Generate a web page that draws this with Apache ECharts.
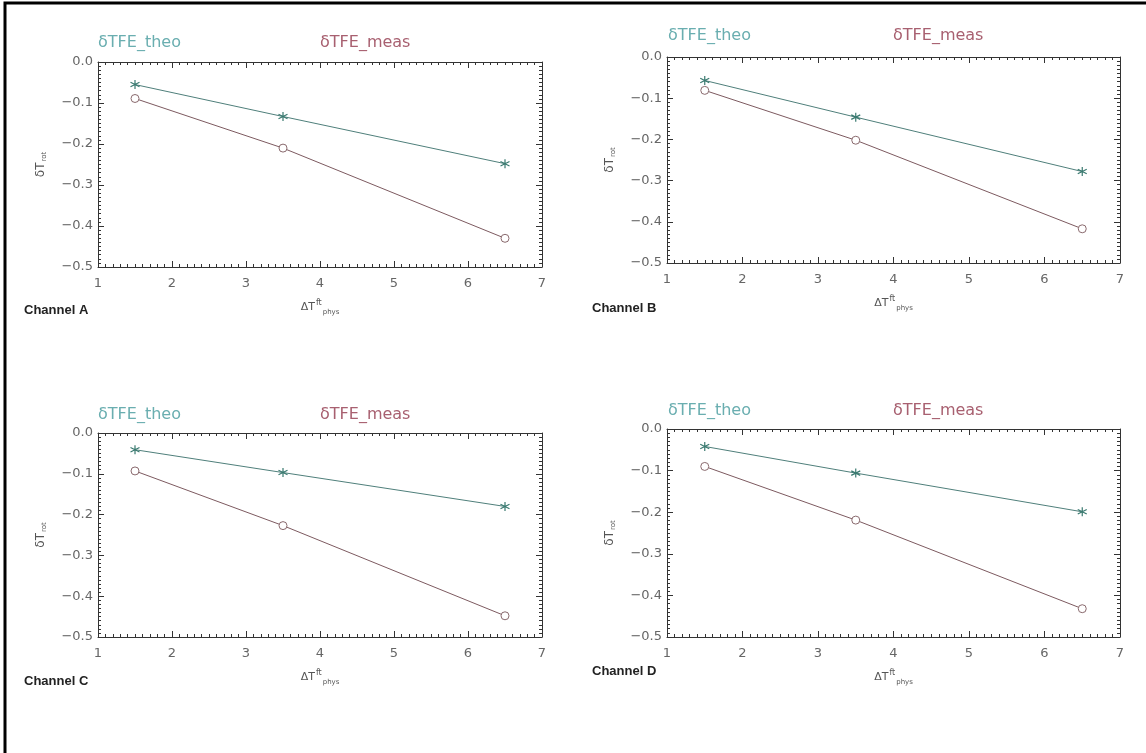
<!DOCTYPE html>
<html>
<head>
<meta charset="utf-8">
<script src="https://cdn.jsdelivr.net/npm/echarts@6/dist/echarts.min.js"></script>
<style>
html,body{margin:0;padding:0;background:#fff;}
#chart{width:1146px;height:753px;}
</style>
</head>
<body>
<div id="chart"></div>
<script>
// ---- data ----
const xValues = [1.5, 3.5, 6.5];
const channels = ['Channel A', 'Channel B', 'Channel C', 'Channel D'];
const seriesNames = ['δTFE_theo', 'δTFE_meas'];
const theoA = [-0.055, -0.133, -0.248];
const measA = [-0.089, -0.210, -0.430];
const theoB = [-0.057, -0.146, -0.278];
const measB = [-0.081, -0.202, -0.417];
const theoC = [-0.041, -0.097, -0.180];
const measC = [-0.093, -0.227, -0.448];
const theoD = [-0.042, -0.106, -0.199];
const measD = [-0.090, -0.219, -0.432];
const xTicks = [1, 2, 3, 4, 5, 6, 7];
const yTicks = [0.0, -0.1, -0.2, -0.3, -0.4, -0.5];

const theoAll = [theoA, theoB, theoC, theoD];
const measAll = [measA, measB, measC, measD];

// ---- layout ----
const grids = [
  {left: 98, top: 62, width: 444, height: 205},
  {left: 667, top: 57, width: 453, height: 206},
  {left: 98, top: 433, width: 444, height: 204},
  {left: 667, top: 429, width: 453, height: 208}
];
const legendPos = [
  {x1: 98, x2: 320, y: 44},
  {x1: 668, x2: 893, y: 37},
  {x1: 98, x2: 320, y: 416},
  {x1: 668, x2: 893, y: 412}
];
const chanPos = [
  {x: 24, y: 312}, {x: 592, y: 310}, {x: 24, y: 683}, {x: 592, y: 673}
];

const axisColor = '#333';
const labelColor = '#666';
const theoColor = '#4f7f7b';
const measColor = '#7d5a60';
const theoText = '#6aaeb0';
const measText = '#a86070';
const fontFam = 'DejaVu Sans';

const asterisk = 'path://M0,-5L0,5M-4.33,-2.5L4.33,2.5M-4.33,2.5L4.33,-2.5';

function fmtY(v) {
  const s = Math.abs(v) < 1e-9 ? '0.0' : v.toFixed(1);
  return s.replace('-', '\u2212');
}

const xAxes = [], yAxes = [], series = [], graphics = [];
const xMin = xTicks[0], xMax = xTicks[xTicks.length - 1];
const yMin = yTicks[yTicks.length - 1], yMax = yTicks[0];

grids.forEach((g, i) => {
  const common = {
    gridIndex: i,
    type: 'value',
    axisLine: {show: true, onZero: false, lineStyle: {color: axisColor, width: 1}},
    axisTick: {show: true, inside: true, length: 6, lineStyle: {color: axisColor}},
    minorTick: {show: true, splitNumber: 10, length: 3, lineStyle: {color: axisColor}},
    splitLine: {show: false},
    minorSplitLine: {show: false}
  };
  xAxes.push(Object.assign({}, common, {
    position: 'bottom', min: xMin, max: xMax, interval: 1,
    axisLabel: {show: true, color: labelColor, fontSize: 13, fontFamily: fontFam, margin: 10},
    name: '{a|ΔT}{sup|ft}{sub|phys}',
    nameLocation: 'middle', nameGap: 32,
    nameTextStyle: {
      rich: {
        a: {fontSize: 11, color: '#555', fontFamily: fontFam, padding: [0, 0, 0, 0]},
        sup: {fontSize: 8, color: '#555', fontFamily: fontFam, padding: [0, 0, 9, 1]},
        sub: {fontSize: 7, color: '#555', fontFamily: fontFam, padding: [10, 0, 0, 1]}
      }
    }
  }));
  xAxes.push(Object.assign({}, common, {
    position: 'top', min: xMin, max: xMax, interval: 1,
    axisLabel: {show: false}
  }));
  yAxes.push(Object.assign({}, common, {
    position: 'left', min: yMin, max: yMax, interval: 0.1,
    axisLabel: {show: true, color: labelColor, fontSize: 13, fontFamily: fontFam, margin: 5,
      formatter: fmtY},
    name: '{a|δT}{sub|rot}',
    nameLocation: 'middle', nameRotate: 90, nameGap: 50,
    nameTextStyle: {
      rich: {
        a: {fontSize: 12, color: '#555', fontFamily: fontFam},
        sub: {fontSize: 7, color: '#555', fontFamily: fontFam, padding: [8, 0, 0, 1]}
      }
    }
  }));
  yAxes.push(Object.assign({}, common, {
    position: 'right', min: yMin, max: yMax, interval: 0.1,
    axisLabel: {show: false}
  }));

  series.push({
    name: seriesNames[0], type: 'line', xAxisIndex: 2 * i, yAxisIndex: 2 * i,
    data: xValues.map((x, k) => [x, theoAll[i][k]]),
    symbol: asterisk, symbolSize: 9, showSymbol: true,
    lineStyle: {color: theoColor, width: 1},
    itemStyle: {color: 'none', borderColor: '#3a7a70', borderWidth: 1.2},
    emphasis: {disabled: true}, animation: false, z: 3
  });
  series.push({
    name: seriesNames[1], type: 'line', xAxisIndex: 2 * i, yAxisIndex: 2 * i,
    data: xValues.map((x, k) => [x, measAll[i][k]]),
    symbol: 'circle', symbolSize: 8, showSymbol: true,
    lineStyle: {color: measColor, width: 1},
    itemStyle: {color: '#fff', borderColor: '#8a6a6e', borderWidth: 1},
    emphasis: {disabled: true}, animation: false, z: 3
  });

  const lp = legendPos[i];
  graphics.push({type: 'text', left: lp.x1, top: lp.y - 9,
    style: {text: seriesNames[0], fill: theoText, font: '16px "DejaVu Sans"'}});
  graphics.push({type: 'text', left: lp.x2, top: lp.y - 9,
    style: {text: seriesNames[1], fill: measText, font: '16px "DejaVu Sans"'}});
  const cp = chanPos[i];
  graphics.push({type: 'text', left: cp.x, top: cp.y - 8,
    style: {text: channels[i], fill: '#222', font: 'bold 13px "Liberation Sans"'}});
});

// frame
graphics.push({type: 'polyline', shape: {points: [[5, 753], [5, 3], [1146, 3]]},
  style: {stroke: '#000', lineWidth: 3, fill: null}});

const chart = echarts.init(document.getElementById('chart'), null, {renderer: 'canvas'});
chart.setOption({
  backgroundColor: '#fff',
  animation: false,
  grid: grids.map(g => Object.assign({containLabel: false}, g)),
  xAxis: xAxes,
  yAxis: yAxes,
  series: series,
  graphic: graphics,
  tooltip: {show: false}
});
</script>
</body>
</html>
